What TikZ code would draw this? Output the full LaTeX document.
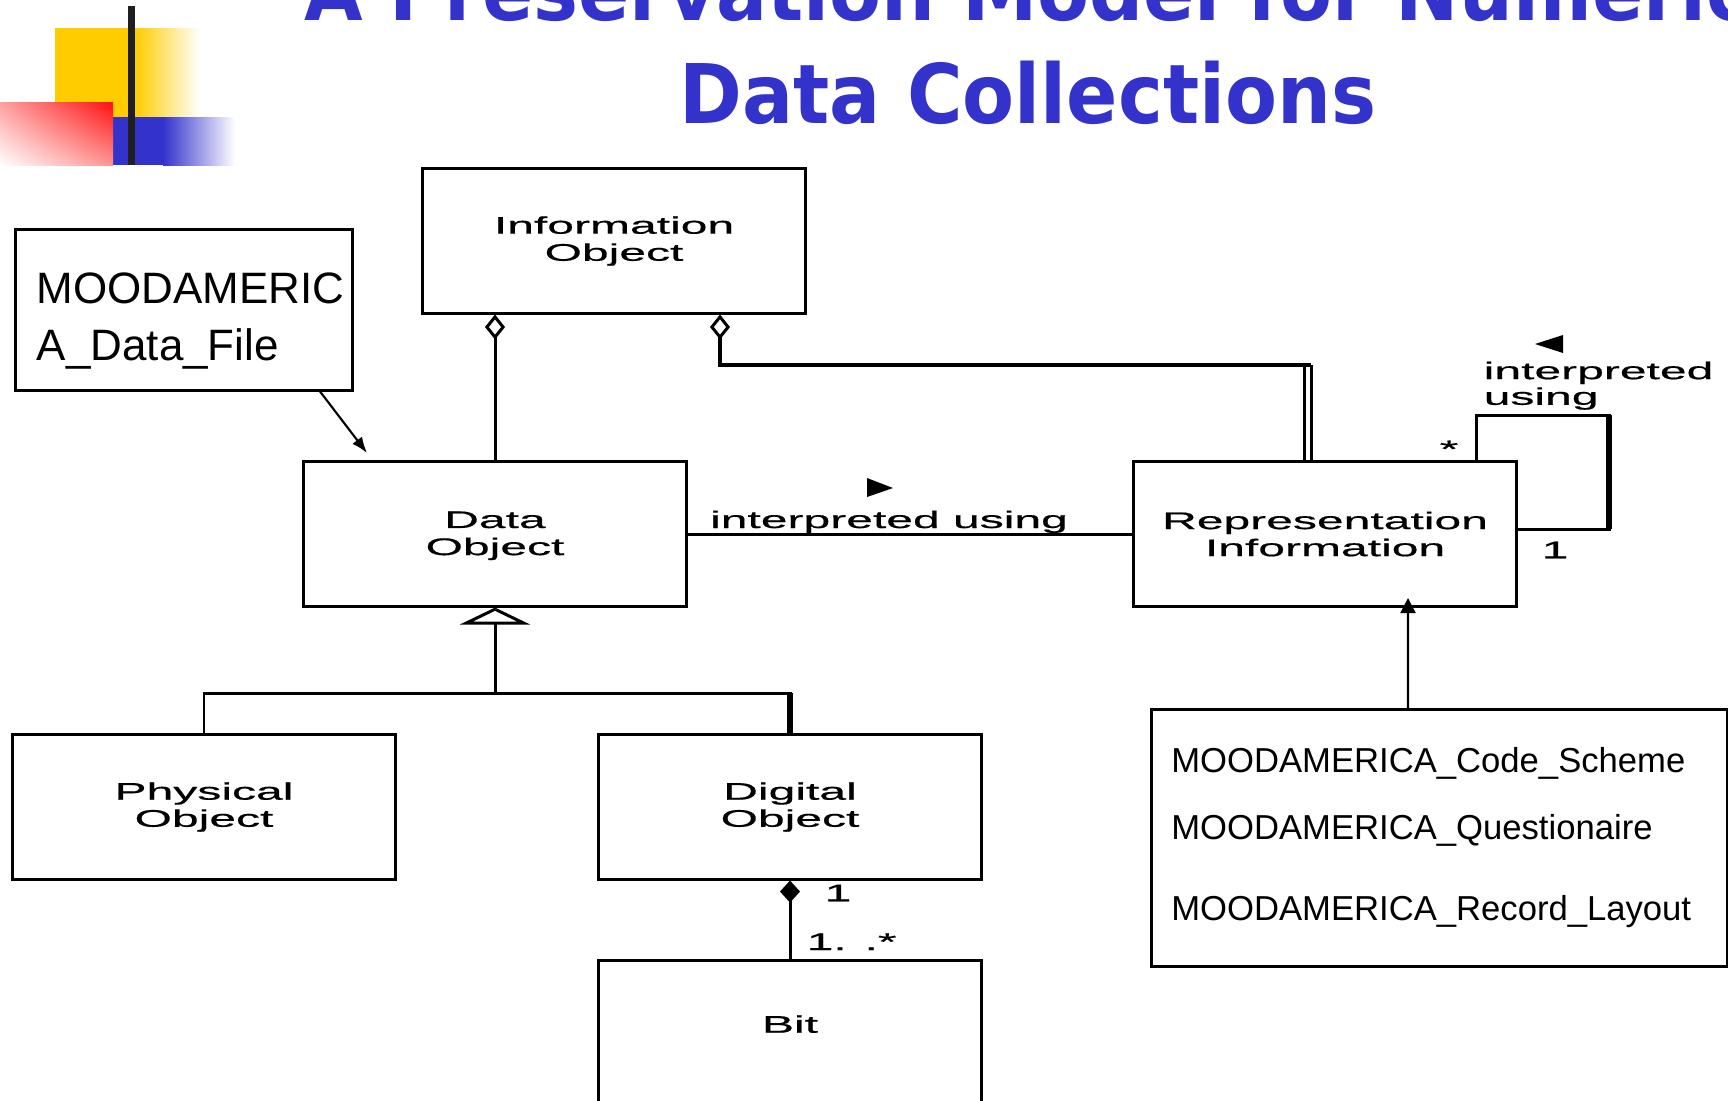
\documentclass[tikz,border=0pt]{standalone}
\usepackage{fontspec}
\usepackage{tikz}
\usetikzlibrary{arrows.meta,positioning,calc,shadings}

\newfontfamily\titlefont[FakeStretch=0.92]{DejaVu Sans}
\newfontfamily\umlfont[FakeStretch=2.0,FakeBold=0.6]{Liberation Sans}
\newfontfamily\notefont{Liberation Sans}

\definecolor{slideblue}{HTML}{3333CC}
\definecolor{slideyellow}{HTML}{FFCC00}
\definecolor{slidered}{HTML}{FF1010}

\tikzset{
  umlbox/.style={draw, line width=0.85pt, minimum width=3.83cm, minimum height=1.44cm,
    align=center, inner sep=0pt, font=\umlfont\fontsize{6.83}{7.7}\selectfont},
  umltext/.style={inner sep=0pt, font=\umlfont\fontsize{6.83}{7.7}\selectfont},
  notebox/.style={draw, line width=0.85pt, align=left, inner ysep=0pt},
  link/.style={line width=0.85pt},
  titletext/.style={inner sep=0pt, anchor=base, text=slideblue,
    font=\titlefont\bfseries\fontsize{23.4}{28}\selectfont},
}

\begin{document}
\begin{tikzpicture}[x=0.01cm,y=-0.01cm]
\useasboundingbox (0,0) rectangle (1728,1100);
\clip (0,0) rectangle (1728,1100);
% logo
\fill[slideyellow] (55,28) rectangle (135,117);
\shade[left color=slideyellow,right color=white] (135,28) rectangle (200,117);
\fill[slideblue] (113,117) rectangle (163,165);
\shade[left color=slideblue,right color=white] (163,117) rectangle (235,165);
\shade[upper right=slidered,lower left=white,upper left=slidered!40,lower right=slidered!45] (0,102) rectangle (113,165);
\fill[black!88] (128,6) rectangle (135,165);
% title
\node[titletext] (title1) at (1028,21) {A Preservation Model for Numeric};
\node[titletext] (title2) at (1028,123) {Data Collections};
% classes
\node[umlbox] (info) at (614,241) {Information\\Object};
\node[umlbox] (data) at (495,534) {\rule{0pt}{0.2cm}Data\\Object};
\node[umlbox] (rep) at (1325,534) {Representation\\Information};
\node[umlbox] (phys) at (204,807) {Physical\\Object};
\node[umlbox] (dig) at (790,807) {Digital\\Object};
\node[umlbox] (bit) at (790,1033) {Bit\rule[-0.18cm]{0pt}{0.18cm}};
% notes
\node[notebox, text width=2.94cm, inner xsep=0.21cm, minimum height=1.6cm,
  font=\notefont\fontsize{12.5}{16.2}\selectfont] (dfile) at (184,310) {\rule{0pt}{0.52cm}MOODAMERIC\\A\_Data\_File};
\node[notebox, text width=5.36cm, inner xsep=0.195cm, minimum height=2.56cm,
  font=\notefont\fontsize{9.85}{18.8}\selectfont] (repfiles) at (1439.5,838)
  {MOODAMERICA\_Code\_Scheme\\MOODAMERICA\_Questionaire\\[4.5pt]MOODAMERICA\_Record\_Layout};
% aggregations
\draw[link, {Diamond[open,length=0.25cm,width=0.2cm]}-] (data.north |- info.south) -- (data.north);
\coordinate (bend1) at (720,365);
\coordinate (bend2) at (1304,365);
\coordinate (bend3) at (1311,365);
\draw[line width=1.2pt, {Diamond[open,length=0.25cm,width=0.2cm,line width=0.85pt]}-] (info.south -| bend1) -- (bend1) -- (bend3);
\draw[link] (bend2) -- (rep.north -| bend2);
\draw[link] (bend3) -- (rep.north -| bend3);
% interpreted using
\draw[link] (data.east) -- (rep.west);
\node[umltext, anchor=base] (iulabel) at (889,528) {interpreted using};
\fill (867,478) -- (893,488) -- (867,497) -- cycle;
% self loop
\coordinate (loop1) at (1476,415);
\coordinate (loop2) at (1609,415);
\coordinate (loop3) at (1609,529);
\draw[link] (rep.north -| loop1) -- (loop1) -- (loop2) -- (loop3) -- (rep.east |- loop3);
\draw[line width=1.6pt] (loop2) -- (loop3);
\node[umltext] (many) at (1449,449) {*};
\node[umltext] (one) at (1555,550) {1};
\node[umltext, anchor=north west, align=left, font=\umlfont\fontsize{6.83}{7.3}\selectfont] (iuloop) at (1483,361) {interpreted\\using};
\fill (1563,335) -- (1535,344) -- (1563,353) -- cycle;
% generalization
\coordinate (gen) at (494,693);
\draw[link, {Triangle[open,length=0.17cm,width=0.7cm]}-] (data.south) -- (data.south |- gen);
\draw[link] (phys.north) -- (phys.north |- gen) -- (dig.north |- gen) -- (dig.north);
\draw[line width=1.5pt] (dig.north |- gen) -- (dig.north);
% composition
\draw[link, {Diamond[length=0.22cm,width=0.2cm]}-] (dig.south) -- (bit.north);
\node[umltext] (onetop) at (838,893) {1};
\node[umltext, anchor=base west] (onemany) at (806,950) {1. .*};
% note arrows
\coordinate (dfilehit) at (367,453);
\draw[line width=0.6pt, -{Latex[length=0.16cm,width=0.12cm]}] ([xshift=1.36cm]dfile.south) -- (dfilehit);
\coordinate (rephit) at (1408,598);
\draw[line width=0.6pt, -{Triangle[length=0.15cm,width=0.15cm]}] ([xshift=-0.315cm]repfiles.north) -- (rephit);
\end{tikzpicture}
\end{document}
